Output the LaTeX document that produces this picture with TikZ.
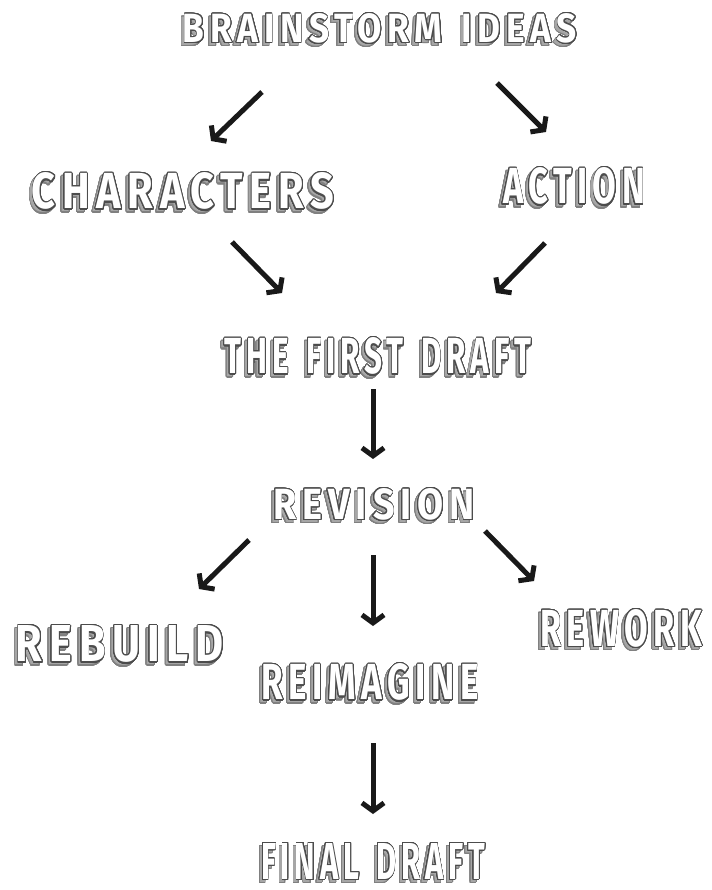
\documentclass[tikz,border=0pt]{standalone}
\usepackage{fontspec}
\setmainfont{Fira Sans}
\newfontfamily\labelfont{Fira Sans}[LetterSpace=16]
\usepackage{contour}
\usepackage{graphicx}
\usetikzlibrary{arrows.meta}
\contourlength{1.1pt}
\contournumber{32}
\newcommand{\lblfont}{\labelfont\fontsize{48}{48}\selectfont\bfseries\spaceskip=0.55em\relax}
\newcommand{\lbl}[5]{%
  \node[inner sep=0pt, xshift=-3pt, yshift=-3pt] at #2 {\resizebox{#3pt}{#4pt}{\lblfont\contour{black!50}{\color{black!35}#5}}};
  \node[inner sep=0pt] (#1) at #2 {\resizebox{#3pt}{#4pt}{\lblfont\contour{black!70}{\color{white}#5}}};
}
\tikzset{flowarrow/.style={draw=black!90, line width=5pt, -{Straight Barb[length=8pt,width=22pt,line width=5pt]}}}
\begin{document}
\begin{tikzpicture}[x=1pt,y=-1pt]
\useasboundingbox (0,0) rectangle (711,890);
\lbl{brain}{(380,29)}{394}{29}{BRAINSTORM IDEAS}
\lbl{char}{(183,192)}{302}{36}{CHARACTERS}
\lbl{act}{(574,187)}{142}{36}{ACTION}
\lbl{first}{(378,357)}{307}{36}{THE FIRST DRAFT}
\lbl{rev}{(374,505)}{202}{31}{REVISION}
\lbl{rebuild}{(120,645)}{208}{36}{REBUILD}
\lbl{rework}{(621,629)}{162}{37}{REWORK}
\lbl{reim}{(370,683)}{217}{36}{REIMAGINE}
\lbl{final}{(373,862)}{224}{36}{FINAL DRAFT}
\coordinate (a1s) at (262,92);  \coordinate (a1e) at (211,141);
\coordinate (a2s) at (497,83);  \coordinate (a2e) at (546,132);
\coordinate (a3s) at (232,242); \coordinate (a3e) at (282,293);
\coordinate (a4s) at (545,243); \coordinate (a4e) at (496,293);
\coordinate (a5s) at (373,389); \coordinate (a5e) at (373,459);
\coordinate (a6s) at (249,540); \coordinate (a6e) at (199,589);
\coordinate (a7s) at (373,555); \coordinate (a7e) at (373,626);
\coordinate (a8s) at (485,531); \coordinate (a8e) at (534,581);
\coordinate (a9s) at (373,743); \coordinate (a9e) at (373,814);
\foreach \i in {1,...,9} \draw[flowarrow] (a\i s) -- (a\i e);
\end{tikzpicture}
\end{document}
